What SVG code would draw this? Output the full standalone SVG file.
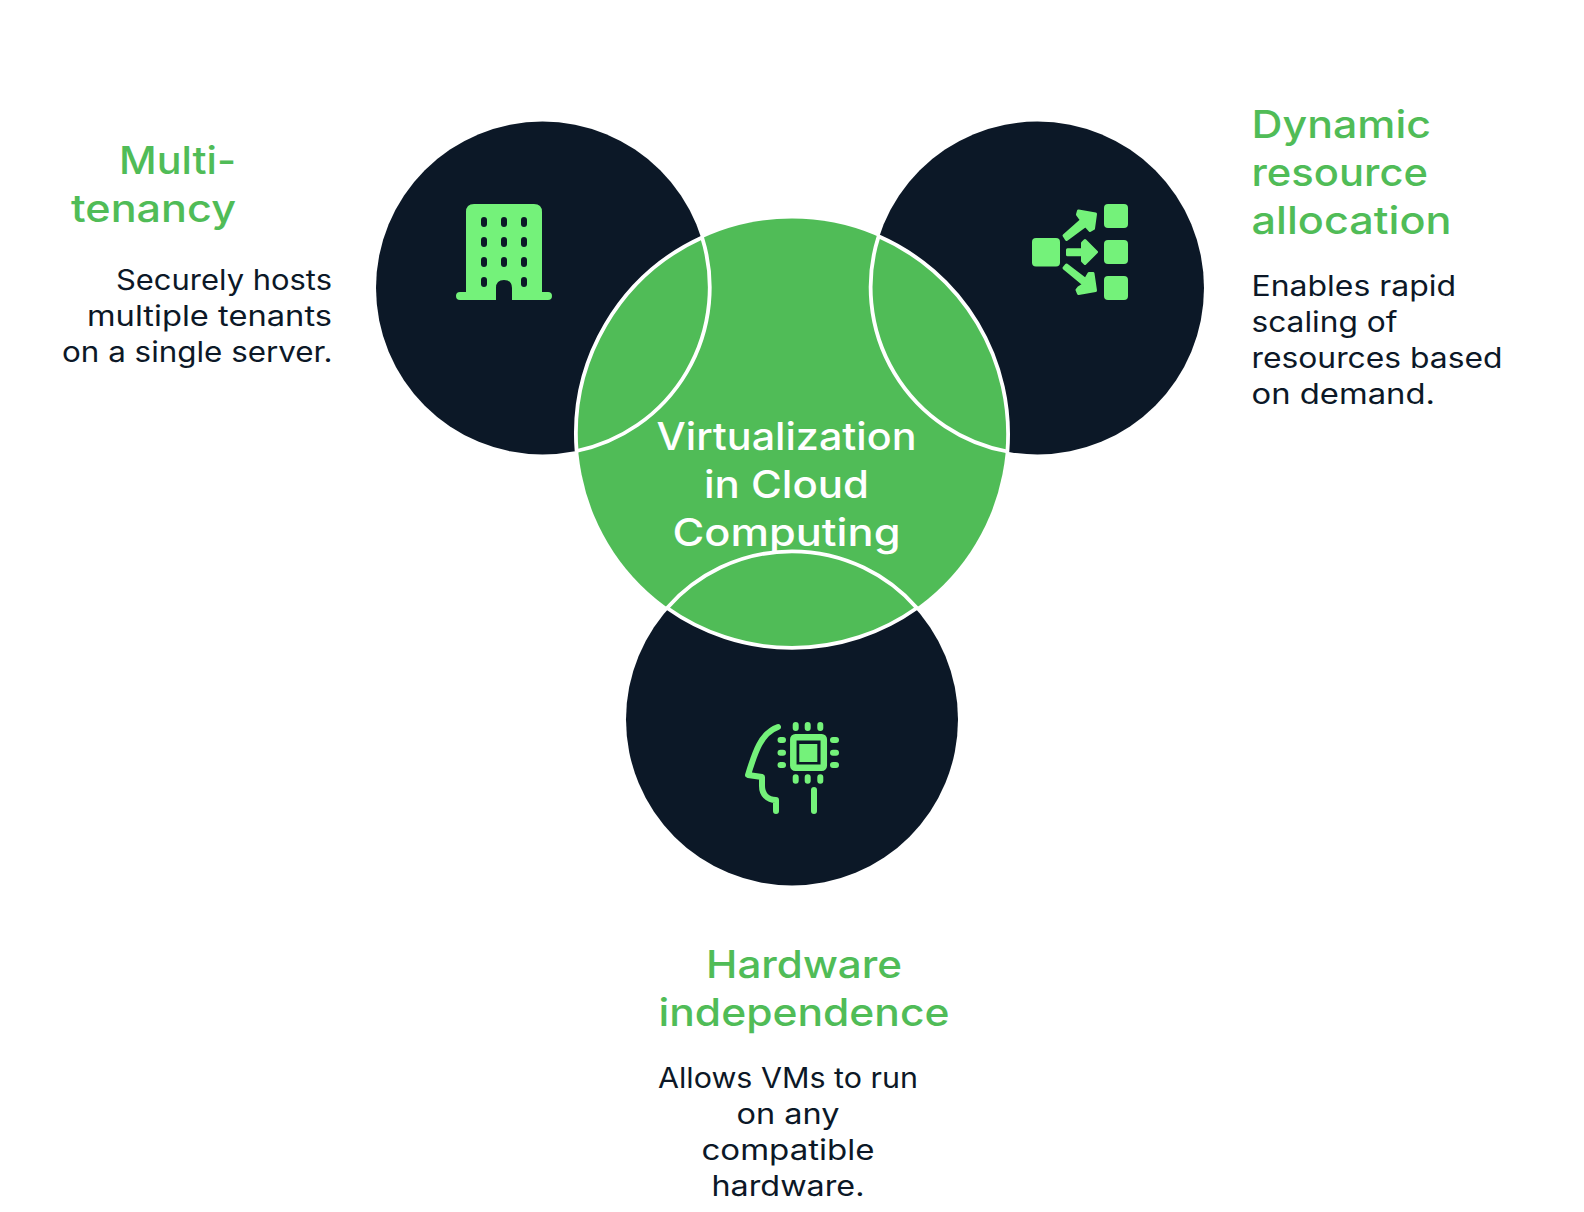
<svg xmlns="http://www.w3.org/2000/svg" width="1584" height="1212" viewBox="0 0 1584 1212">
<style>
.dark{fill:#0C1827}
.lens{fill:#50BC57;stroke:#fff;stroke-width:3.8;stroke-linejoin:bevel}
.ic{fill:#74F27A}
.ar{fill:#74F27A;stroke:#74F27A;stroke-width:3;stroke-linejoin:round}
.ln{fill:none;stroke:#74F27A;stroke-width:6;stroke-linecap:round;stroke-linejoin:round}
.t{font-family:Inter,"Liberation Sans",sans-serif;font-weight:500;font-size:38px;fill:#50BC57}
.b{font-family:Inter,"Liberation Sans",sans-serif;font-weight:400;font-size:28px;fill:#0C1827}
.c{font-family:Inter,"Liberation Sans",sans-serif;font-weight:500;font-size:38px;fill:#fff}
</style>
<rect width="1584" height="1212" fill="#fff"/>
<g id="node-multitenancy">
<circle class="dark" cx="542.500" cy="288" r="166.500"/>
<path class="ic" d="M474 204H534Q542 204 542 212V292H548Q552 292 552 296T548 300H512V288Q512 280 504 280T496 288V300H460Q456 300 456 296T460 292H466V212Q466 204 474 204Z"/>
<g fill="#0C1827">
<rect x="481" y="217" width="6" height="10" rx="3"/><rect x="501" y="217" width="6" height="10" rx="3"/><rect x="521" y="217" width="6" height="10" rx="3"/>
<rect x="481" y="237" width="6" height="10" rx="3"/><rect x="501" y="237" width="6" height="10" rx="3"/><rect x="521" y="237" width="6" height="10" rx="3"/>
<rect x="481" y="257" width="6" height="10" rx="3"/><rect x="501" y="257" width="6" height="10" rx="3"/><rect x="521" y="257" width="6" height="10" rx="3"/>
<rect x="481" y="277" width="6" height="10" rx="3"/><rect x="521" y="277" width="6" height="10" rx="3"/>
</g>
<text class="t" x="236" y="174" text-anchor="end" textLength="117" lengthAdjust="spacingAndGlyphs">Multi-</text>
<text class="t" x="236" y="222" text-anchor="end" textLength="165" lengthAdjust="spacingAndGlyphs">tenancy</text>
<text class="b" x="332" y="290" text-anchor="end" textLength="216" lengthAdjust="spacingAndGlyphs">Securely hosts</text>
<text class="b" x="332" y="326" text-anchor="end" textLength="245" lengthAdjust="spacingAndGlyphs">multiple tenants</text>
<text class="b" x="332.500" y="362" text-anchor="end" textLength="270.500" lengthAdjust="spacingAndGlyphs">on a single server.</text>
</g>
<g id="node-dynamic">
<circle class="dark" cx="1037.500" cy="288" r="166.500"/>
<rect class="ic" x="1032" y="238" width="28" height="28.500" rx="4"/>
<rect class="ic" x="1104" y="204" width="24" height="24" rx="4"/>
<rect class="ic" x="1104" y="240" width="24" height="24" rx="4"/>
<rect class="ic" x="1104" y="276" width="24" height="24" rx="4"/>
<path class="ar" d="M1064 235.500L1066.500 239.500L1085.500 225.500L1090 230.500L1093.500 228.500L1095.500 214L1078.500 211L1077.500 214.500L1081.500 220Z"/>
<path class="ar" d="M1067.500 249.700V254.700H1082.500V261L1085 263.500L1096.500 252L1085 240.500L1082.500 243V249.700Z"/>
<path class="ar" d="M1064 268L1066.500 265L1085.500 279.500L1089 273.500H1093L1095.500 290.500L1078.500 293.500L1077 290L1079 287.500L1084 284.500Z"/>
<text class="t" x="1251.500" y="138" textLength="179.500" lengthAdjust="spacingAndGlyphs">Dynamic</text>
<text class="t" x="1251.500" y="186" textLength="176.500" lengthAdjust="spacingAndGlyphs">resource</text>
<text class="t" x="1251.500" y="234" textLength="200" lengthAdjust="spacingAndGlyphs">allocation</text>
<text class="b" x="1251.500" y="296" textLength="204.500" lengthAdjust="spacingAndGlyphs">Enables rapid</text>
<text class="b" x="1251.500" y="331.500" textLength="146" lengthAdjust="spacingAndGlyphs">scaling of</text>
<text class="b" x="1251.500" y="367.500" textLength="251" lengthAdjust="spacingAndGlyphs">resources based</text>
<text class="b" x="1251.500" y="403.500" textLength="183.500" lengthAdjust="spacingAndGlyphs">on demand.</text>
</g>
<g id="node-hardware">
<circle class="dark" cx="792" cy="719.500" r="166"/>
<path class="ln" d="M778 727C761 733 755 752 748 775L762 777V786C762 794 767 800 776 800V811"/>
<path class="ln" d="M814 790V811"/>
<rect x="793.300" y="737.300" width="30.500" height="30.500" rx="2" fill="none" stroke="#74F27A" stroke-width="6.500"/>
<rect class="ic" x="799.300" y="744" width="18" height="18"/>
<path class="ln" d="M795.700 725V728M807.700 725V728M820.300 725V728M795.700 777.300V780.700M807.700 777.300V780.700M820.300 777.300V780.700M780.500 740H783M780.500 752.700H783M780.500 765H783M833 740H836M833 752.700H836M833 765H836"/>
<text class="t" x="804" y="978" text-anchor="middle" textLength="196" lengthAdjust="spacingAndGlyphs">Hardware</text>
<text class="t" x="804" y="1026" text-anchor="middle" textLength="291" lengthAdjust="spacingAndGlyphs">independence</text>
<text class="b" x="788" y="1088" text-anchor="middle" textLength="260" lengthAdjust="spacingAndGlyphs">Allows VMs to run</text>
<text class="b" x="788" y="1124" text-anchor="middle" textLength="103" lengthAdjust="spacingAndGlyphs">on any</text>
<text class="b" x="788" y="1160" text-anchor="middle" textLength="173" lengthAdjust="spacingAndGlyphs">compatible</text>
<text class="b" x="788" y="1196" text-anchor="middle" textLength="153" lengthAdjust="spacingAndGlyphs">hardware.</text>
</g>
<g id="node-center">
<circle cx="792" cy="433" r="214.500" fill="#50BC57"/>
<path class="lens" d="M576.600 451A216 216 0 0 1 702.100 237.500A167 167 0 0 1 576.600 451Z"/>
<path class="lens" d="M1007.400 451.500A216 216 0 0 0 878.600 236.300A167 167 0 0 0 1007.400 451.500Z"/>
<path class="lens" d="M667.100 608A166 166 0 0 1 916.900 608A215.500 215.500 0 0 1 667.100 608Z"/>
<text class="c" x="786.500" y="450" text-anchor="middle" textLength="260" lengthAdjust="spacingAndGlyphs">Virtualization</text>
<text class="c" x="786.500" y="498" text-anchor="middle" textLength="165" lengthAdjust="spacingAndGlyphs">in Cloud</text>
<text class="c" x="786.500" y="546" text-anchor="middle" textLength="228" lengthAdjust="spacingAndGlyphs">Computing</text>
</g>
<g id="connectors"/>
</svg>
